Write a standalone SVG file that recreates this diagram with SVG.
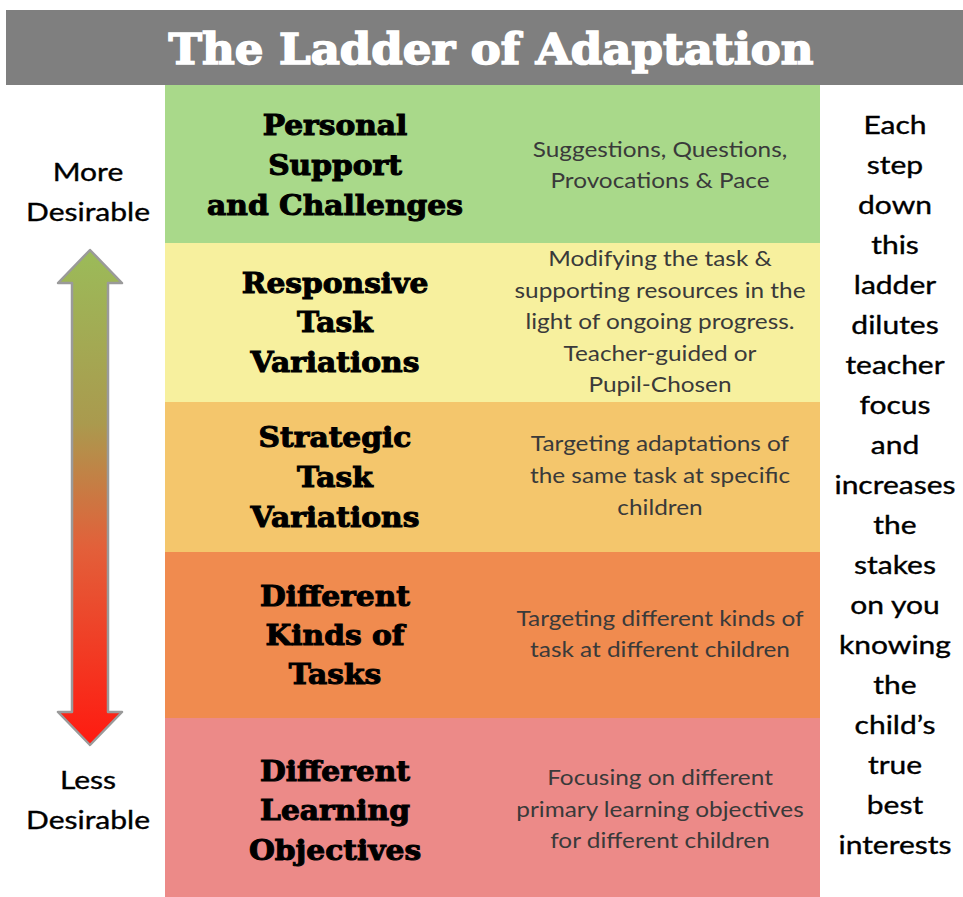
<svg xmlns="http://www.w3.org/2000/svg" width="963" height="897" viewBox="0 0 963 897">
<defs>
<linearGradient id="arrowGrad" x1="0" y1="0" x2="0" y2="1">
<stop offset="0" stop-color="#9bbb59"/>
<stop offset="0.35" stop-color="#aa9a4e"/>
<stop offset="0.6" stop-color="#e2603a"/>
<stop offset="1" stop-color="#ff1a10"/>
</linearGradient>
<style>
.title{font-family:"DejaVu Serif",serif;font-weight:bold;font-size:42px;fill:#fff;stroke:#fff;stroke-width:1.6;text-anchor:middle}
.lab{font-family:"DejaVu Serif",serif;font-weight:bold;font-size:27px;fill:#000;stroke:#000;stroke-width:1;text-anchor:middle}
.desc{font-family:Lato,"Liberation Sans",sans-serif;font-size:21px;fill:#3a3a3a;text-anchor:middle}
.side{font-family:Lato,"Liberation Sans",sans-serif;font-size:25px;fill:#000;stroke:#000;stroke-width:0.35;text-anchor:middle}
</style>
</defs>
<rect width="963" height="897" fill="#fff"/>
<g id="title">
<rect x="6" y="10" width="957" height="75" fill="#7f7f7f"/>
<text class="title" x="491" y="64" textLength="645" lengthAdjust="spacingAndGlyphs">The Ladder of Adaptation</text>
</g>
<g id="band1">
<rect x="165" y="85" width="655" height="158" fill="#a9d98a"/>
<g transform="translate(335,0) scale(1.1,1)">
<text class="lab" x="0" y="135">Personal</text>
<text class="lab" x="0" y="175">Support</text>
<text class="lab" x="0" y="215">and Challenges</text>
</g>
<g transform="translate(660,0) scale(1.16,1)">
<text class="desc" x="0" y="157">Suggestions, Questions,</text>
<text class="desc" x="0" y="188">Provocations &amp; Pace</text>
</g>
</g>
<g id="band2">
<rect x="165" y="243" width="655" height="159" fill="#f7f09e"/>
<g transform="translate(335,0) scale(1.1,1)">
<text class="lab" x="0" y="293">Responsive</text>
<text class="lab" x="0" y="332">Task</text>
<text class="lab" x="0" y="372">Variations</text>
</g>
<g transform="translate(660,0) scale(1.16,1)">
<text class="desc" x="0" y="266">Modifying the task &amp;</text>
<text class="desc" x="0" y="298">supporting resources in the</text>
<text class="desc" x="0" y="329">light of ongoing progress.</text>
<text class="desc" x="0" y="361">Teacher-guided or</text>
<text class="desc" x="0" y="392">Pupil-Chosen</text>
</g>
</g>
<g id="band3">
<rect x="165" y="402" width="655" height="150" fill="#f4c66c"/>
<g transform="translate(335,0) scale(1.1,1)">
<text class="lab" x="0" y="447">Strategic</text>
<text class="lab" x="0" y="487">Task</text>
<text class="lab" x="0" y="527">Variations</text>
</g>
<g transform="translate(660,0) scale(1.16,1)">
<text class="desc" x="0" y="451">Targeting adaptations of</text>
<text class="desc" x="0" y="483">the same task at specific</text>
<text class="desc" x="0" y="515">children</text>
</g>
</g>
<g id="band4">
<rect x="165" y="552" width="655" height="166" fill="#f08b4f"/>
<g transform="translate(335,0) scale(1.1,1)">
<text class="lab" x="0" y="606">Different</text>
<text class="lab" x="0" y="645">Kinds of</text>
<text class="lab" x="0" y="684">Tasks</text>
</g>
<g transform="translate(660,0) scale(1.16,1)">
<text class="desc" x="0" y="626">Targeting different kinds of</text>
<text class="desc" x="0" y="657">task at different children</text>
</g>
</g>
<g id="band5">
<rect x="165" y="718" width="655" height="179" fill="#ec8a88"/>
<g transform="translate(335,0) scale(1.1,1)">
<text class="lab" x="0" y="781">Different</text>
<text class="lab" x="0" y="820">Learning</text>
<text class="lab" x="0" y="860">Objectives</text>
</g>
<g transform="translate(660,0) scale(1.16,1)">
<text class="desc" x="0" y="785">Focusing on different</text>
<text class="desc" x="0" y="817">primary learning objectives</text>
<text class="desc" x="0" y="848">for different children</text>
</g>
</g>
<g id="more-desirable" transform="translate(88,0) scale(1.2,1)">
<text class="side" x="0" y="181">More</text>
<text class="side" x="0" y="221">Desirable</text>
</g>
<g id="less-desirable" transform="translate(88,0) scale(1.2,1)">
<text class="side" x="0" y="789">Less</text>
<text class="side" x="0" y="829">Desirable</text>
</g>
<g id="arrow">
<path d="M90 250 L122 283 L108 283 L108 712 L122 712 L90 745 L58 712 L72 712 L72 283 L58 283 Z" fill="url(#arrowGrad)" stroke="#9a9a9a" stroke-width="2.5" stroke-linejoin="round"/>
</g>
<g id="side-note" transform="translate(895,0) scale(1.2,1)">
<text class="side" x="0" y="134">Each</text>
<text class="side" x="0" y="174">step</text>
<text class="side" x="0" y="214">down</text>
<text class="side" x="0" y="254">this</text>
<text class="side" x="0" y="294">ladder</text>
<text class="side" x="0" y="334">dilutes</text>
<text class="side" x="0" y="374">teacher</text>
<text class="side" x="0" y="414">focus</text>
<text class="side" x="0" y="454">and</text>
<text class="side" x="0" y="494">increases</text>
<text class="side" x="0" y="534">the</text>
<text class="side" x="0" y="574">stakes</text>
<text class="side" x="0" y="614">on you</text>
<text class="side" x="0" y="654">knowing</text>
<text class="side" x="0" y="694">the</text>
<text class="side" x="0" y="734">child’s</text>
<text class="side" x="0" y="774">true</text>
<text class="side" x="0" y="814">best</text>
<text class="side" x="0" y="854">interests</text>
</g>
</svg>
